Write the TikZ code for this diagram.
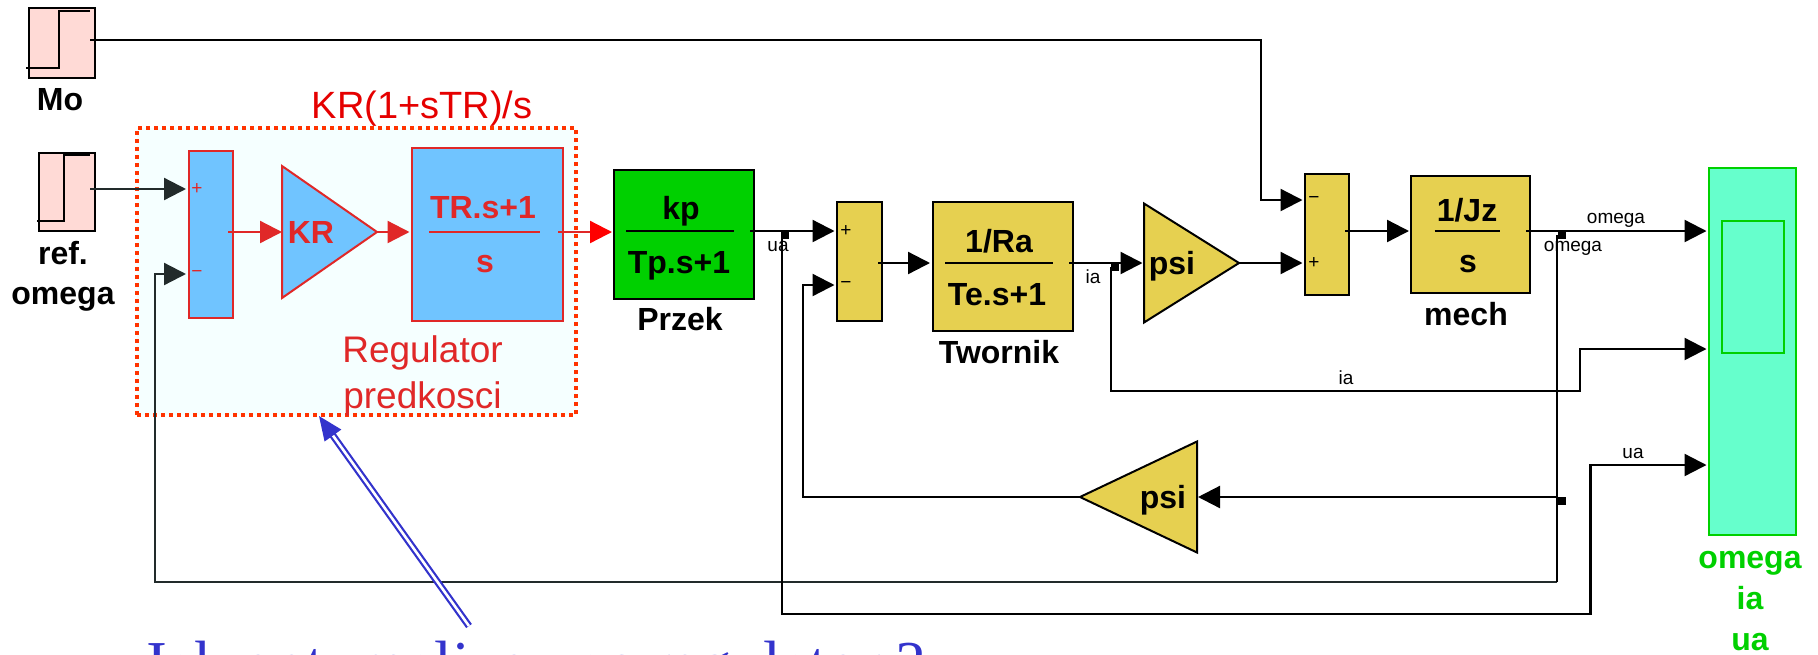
\documentclass[tikz,border=0pt]{standalone}
\usepackage{fontspec}
\setmainfont{Liberation Sans}
\newfontfamily\timesfont{Liberation Serif}
\usetikzlibrary{arrows.meta,shapes.geometric}
\definecolor{regred}{HTML}{E02828}
\definecolor{dotred}{HTML}{FF3300}
\definecolor{regblue}{HTML}{70C4FF}
\definecolor{regbg}{HTML}{F5FFFF}
\definecolor{plantyel}{HTML}{E6D050}
\definecolor{plantgrn}{HTML}{00D000}
\definecolor{scopefill}{HTML}{66FFCC}
\definecolor{stepfill}{HTML}{FFDAD6}
\definecolor{askblue}{HTML}{3333CC}
\definecolor{darkwire}{HTML}{222B2B}

\begin{document}
\begin{tikzpicture}[x=1pt,y=-1pt,
			box/.style={draw,rectangle,line width=2pt,inner sep=0pt,fill=plantyel},
			regbox/.style={box,draw=regred,fill=regblue},
			gain/.style={draw,isosceles triangle,isosceles triangle stretches,line width=2pt,inner sep=0pt,outer sep=0pt,fill=plantyel},
			wire/.style={line width=2.3pt,line join=miter},
			sig/.style={wire,-{Triangle[length=22pt,width=22pt]}},
			bar/.style={line width=2pt},
			junc/.style={fill=black,rectangle,inner sep=0pt,minimum size=8pt},
			big/.style={font=\fontsize{32}{36}\selectfont\bfseries,inner sep=0pt},
			small/.style={font=\fontsize{19}{22}\selectfont,inner sep=0pt},
			sign/.style={font=\fontsize{19}{22}\selectfont,inner sep=0pt},
			note/.style={font=\fontsize{37}{41}\selectfont,inner sep=0pt,text=regred}]
			\clip (0,0) rectangle (1818,654);
			% regulator frame
			\node (regframe) [rectangle,fill=regbg,draw=dotred,line width=4pt,dash pattern=on 4pt off 4pt,minimum width=439pt,minimum height=287pt,inner sep=0pt] at (356.5,271.5) {};
			\node (regformula) [font=\fontsize{38}{42}\selectfont,inner sep=0pt,text=red!90!black] at (422,109) {KR(1+sTR)/s};
			\node (regname) [note] at (422.5,353) {Regulator};
			\node (regname2) [note] at (422.5,399) {predkosci};

			% sources
			\node (mo) [draw,rectangle,line width=2pt,inner sep=0pt,fill=stepfill,minimum width=66pt,minimum height=70pt] at (62,43) {};
			\node (ref) [draw,rectangle,line width=2pt,inner sep=0pt,fill=stepfill,minimum width=56pt,minimum height=78pt] at (67,192) {};
			\draw [wire] (26,68) -- (59,68) -- (59,11) -- (90,11);
			\draw [wire] (37,221) -- (64,221) -- (64,155) -- (90,155);
			\node (molbl) [big] at (60,100) {Mo};
			\node (reflbl) [big] at (63,253) {ref.};
			\node (reflbl2) [big] at (63,299) {omega};

			% regulator
			\node (sumreg) [regbox,minimum width=44pt,minimum height=167pt] at (211,234.5) {};
			\node (krgain) [gain,draw=regred,fill=regblue,minimum height=95pt,minimum width=132pt,anchor=lower side] at (282,232) {};
			\node (tfreg) [regbox,minimum width=151pt,minimum height=173pt] at (487.5,234.5) {};
			\draw [bar,regred] (429,232) -- (540,232);
			\node (krlbl) [big,text=regred] at (311,232) {KR};
			\node (tfregnum) [big,text=regred] at (483,208) {TR.s+1};
			\node (tfregden) [big,text=regred] at (485,264) {s};
			\node (regplus) [sign,text=regred] at (197,189) {+};
			\node (regminus) [sign,text=regred] at (197,274) {−};

			% plant blocks
			\node (przek) [box,fill=plantgrn,minimum width=140pt,minimum height=129pt] at (684,234.5) {};
			\draw [bar] (626,231) -- (734,231);
			\node (przeknum) [big] at (681,211) {kp};
			\node (przekden) [big] at (679,266) {Tp.s+1};
			\node (przeklbl) [big] at (680,319) {Przek};

			\node (sumcur) [box,minimum width=45pt,minimum height=119pt] at (859.5,261.5) {};
			\node (curplus) [sign] at (846,231) {+};
			\node (curminus) [sign] at (846,285) {−};

			\node (twornik) [box,minimum width=140pt,minimum height=129pt] at (1003,266.5) {};
			\draw [bar] (945,263) -- (1053,263);
			\node (tworniknum) [big] at (999,241) {1/Ra};
			\node (twornikden) [big] at (997,295) {Te.s+1};
			\node (tworniklbl) [big] at (999,352) {Twornik};

			\node (psiA) [gain,minimum height=95pt,minimum width=119pt,anchor=lower side] at (1144,263) {};
			\node (psiAlbl) [big] at (1172,266) {psi};

			\node (sumtrq) [box,minimum width=44pt,minimum height=121pt] at (1327,234.5) {};
			\node (trqminus) [sign] at (1314,200) {−};
			\node (trqplus) [sign] at (1314,263) {+};

			\node (mech) [box,minimum width=119pt,minimum height=117pt] at (1470.5,234.5) {};
			\draw [bar] (1434.5,231) -- (1500,231);
			\node (mechnum) [big] at (1467,210) {1/Jz};
			\node (mechden) [big] at (1468,264) {s};
			\node (mechlbl) [big] at (1466,314) {mech};

			\node (psiB) [gain,shape border rotate=180,minimum height=117pt,minimum width=111pt,anchor=lower side] at (1197,497) {};
			\node (psiBlbl) [big] at (1163,500) {psi};

			% scope
			\node (scope) [box,draw=plantgrn,fill=scopefill,minimum width=87pt,minimum height=367pt] at (1752.5,351.5) {};
			\node (screen) [box,draw=plantgrn,fill=scopefill,minimum width=62pt,minimum height=132pt] at (1753,287) {};
			\node (scopelbl) [big,text=plantgrn] at (1750,563) {omega};
			\node (scopelbl2) [big,text=plantgrn] at (1750,598) {ia};
			\node (scopelbl3) [big,text=plantgrn] at (1750,642) {ua};

			% ports
			\coordinate (moout) at (90,40);
			\coordinate (refout) at (90,189);
			\coordinate (regin) at (186,189);
			\coordinate (regfb) at (186,274);
			\coordinate (regbend) at (155,582);
			\coordinate (sumregout) at (228,232);
			\coordinate (tfregin) at (409.5,232);
			\coordinate (tfregout) at (558,232);
			\coordinate (przekin) at (612,232);
			\coordinate (przekout) at (750,231);
			\coordinate (curin) at (834.5,231);
			\coordinate (curfb) at (834.5,285);
			\coordinate (curbend) at (803,497);
			\coordinate (sumcurout) at (878,263);
			\coordinate (twornikin) at (930,263);
			\coordinate (twornikout) at (1069,263);
			\coordinate (psiAin) at (1142.5,263);
			\coordinate (trqin) at (1302.5,263);
			\coordinate (trqload) at (1302.5,200);
			\coordinate (trqbend) at (1261,40);
			\coordinate (sumtrqout) at (1345,231);
			\coordinate (mechin) at (1409,231);
			\coordinate (mechout) at (1526,231);
			\coordinate (scopeomega) at (1706.5,231);
			\coordinate (scopeia) at (1706.5,349);
			\coordinate (scopeua) at (1706.5,465);
			\coordinate (iabendB) at (1580,391);
			\coordinate (uabend) at (1590.5,614);
			\coordinate (psiBin) at (1198,497);

			% junctions
			\node (juua) [junc] at (785,235) {};
			\node (juia) [junc] at (1115,267) {};
			\node (juomega) [junc] at (1561.5,235) {};
			\node (jupsi) [junc] at (1561.5,501) {};

			% signals
			\draw [sig,darkwire] (refout) -- (regin);
			\draw [sig,darkwire] (jupsi.west |- regbend) -- (regbend) |- (regfb);
			\draw [sig,regred] (sumregout) -- (krgain.lower side);
			\draw [sig,regred] (krgain.apex) -- (tfregin);
			\draw [wire,regred,-{Triangle[length=22pt,width=22pt,red]}] (tfregout) -- (przekin);
			\draw [sig] (przekout) -- (curin);
			\draw [sig] (psiB.apex) -| (curbend) |- (curfb);
			\draw [sig] (sumcurout) -- (twornikin);
			\draw [sig] (twornikout) -- (psiAin);
			\draw [sig] (psiA.apex) -- (trqin);
			\draw [sig] (moout) -| (trqbend) |- (trqload);
			\draw [sig] (sumtrqout) -- (mechin);
			\draw [sig] (mechout) -- (scopeomega);
			\draw [wire] (juomega.west) -- (jupsi.west |- regbend);
			\draw [sig] (jupsi.west |- psiBin) -- (psiBin);
			\draw [sig] (juia.west) |- (iabendB) |- (scopeia);
			\draw [sig] ([xshift=1pt]juua.west) |- (uabend) |- (scopeua);

			% signal names
			\node (uatag) [small] at (778,246) {ua};
			\node (iatag) [small] at (1093,277) {ia};
			\node (omegatag) [small] at (1616,220) {omega};
			\node (omegatag2) [small] at (1573,248) {omega};
			\node (iatag2) [small] at (1346,378) {ia};
			\node (uatag2) [small] at (1633,453) {ua};

			% question
			\coordinate (asktail) at (469,626);
			\node (ask) [font=\fontsize{64}{70}\timesfont,text=askblue,inner sep=0pt,anchor=base west] at (141,685) {Jak optymalizowac regulator ?};
			\draw [askblue,line width=2.2pt,double=white,double distance=2.6pt,-{Triangle[length=24pt,width=20pt]}] (asktail) -- (319,416);
		\end{tikzpicture}
\end{document}
